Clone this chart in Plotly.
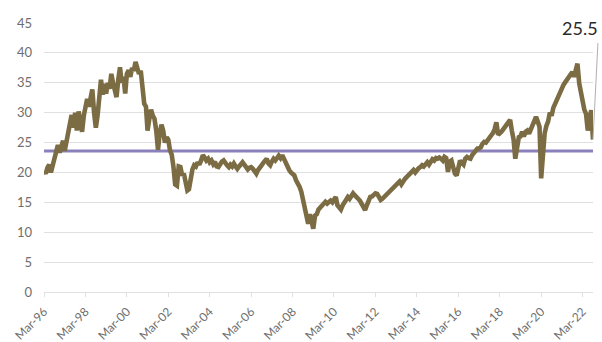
import pandas as pd
import plotly.graph_objects as go

# Monthly values from Mar-96 to Sep-22
values = [
    # Mar96 - Feb97
    20.3, 19.8, 20.8, 21.3, 20.0, 21.0, 22.0, 23.5, 24.6, 23.3, 24.5, 25.3,
    # Mar97 - Feb98
    23.6, 25.0, 26.5, 28.0, 29.6, 27.5, 30.0, 27.0, 30.2, 28.5, 26.8, 29.5,
    # Mar98 - Feb99
    31.5, 32.3, 31.0, 32.5, 33.9, 30.0, 27.5, 29.5, 33.5, 35.5, 33.0, 34.8,
    # Mar99 - Feb00
    33.2, 35.0, 34.0, 36.5, 35.0, 33.5, 32.6, 35.5, 37.6, 35.0, 36.0, 33.2,
    # Mar00 - Feb01
    36.5, 37.1, 36.0, 37.5, 37.0, 38.5, 37.5, 36.5, 37.0, 34.0, 31.5, 31.0,
    # Mar01 - Feb02
    27.0, 29.0, 30.5, 29.5, 29.0, 27.0, 23.8, 26.5, 28.0, 27.0, 25.0, 25.9,
    # Mar02 - Feb03
    25.5, 23.7, 23.0, 20.9, 18.0, 17.8, 21.0, 20.9, 19.5, 19.8, 18.0, 17.0,
    # Mar03 - Feb04
    17.2, 19.2, 20.5, 21.2, 21.0, 21.7, 21.3, 22.0, 22.9, 22.5, 22.0, 22.3,
    # Mar04 - Feb05
    21.7, 22.0, 21.4, 21.8, 21.0, 20.9, 21.5, 21.8, 22.0, 21.5, 21.2, 20.9,
    # Mar05 - Feb06
    21.3, 21.0, 21.5, 21.0, 20.6, 21.0, 21.4, 21.7, 21.3, 20.8, 20.5, 20.8,
    # Mar06 - Feb07
    20.9, 20.6, 20.2, 19.8, 20.4, 21.0, 21.2, 21.6, 22.0, 22.3, 21.5, 21.2,
    # Mar07 - Feb08
    21.8, 22.3, 22.0, 22.6, 22.8, 22.4, 22.9, 22.3, 21.5, 21.2, 20.4, 20.0,
    # Mar08 - Feb09
    19.8, 19.5, 18.7, 18.3, 17.6, 16.8, 15.3, 13.5, 12.5, 11.4, 13.0, 11.2,
    # Mar09 - Feb10
    10.6, 12.8, 13.0, 13.8, 14.2, 14.6, 15.0, 15.1, 14.8, 15.2, 15.3, 15.0,
    # Mar10 - Feb11
    15.6, 15.9, 14.5, 14.0, 13.8, 14.5, 15.0, 15.5, 15.9, 15.6, 16.2, 16.5,
    # Mar11 - Feb12
    16.2, 16.0, 15.6, 15.3, 14.8, 14.0, 13.7, 14.5, 15.3, 15.9, 16.0, 16.3,
    # Mar12 - Feb13
    16.5, 16.4, 15.8, 15.4, 15.6, 15.9, 16.3, 16.5, 16.8, 17.2, 17.6, 17.8,
    # Mar13 - Feb14
    18.0, 18.2, 18.5, 18.0, 18.6, 18.9, 19.2, 19.5, 19.8, 20.1, 20.4, 20.0,
    # Mar14 - Feb15
    20.5, 20.7, 20.9, 21.2, 21.0, 21.5, 21.7, 21.3, 22.0, 22.2, 22.0, 22.4,
    # Mar15 - Feb16
    22.3, 22.5, 22.3, 22.0, 22.6, 22.4, 20.1, 21.8, 22.0, 21.0, 19.8, 19.5,
    # Mar16 - Feb17
    20.8, 22.0, 21.6, 21.3, 22.3, 22.6, 22.4, 22.3, 22.9, 23.3, 23.6, 24.0,
    # Mar17 - Feb18
    24.0, 24.2, 24.8, 25.1, 25.0, 25.4, 25.6, 26.0, 26.6, 27.2, 28.4, 26.3,
    # Mar18 - Feb19
    26.5, 26.8, 27.2, 27.6, 28.0, 28.5, 28.8, 27.0, 25.5, 22.3, 24.5, 25.9,
    # Mar19 - Feb20
    26.0, 26.8, 26.0, 26.8, 27.0, 26.5, 27.2, 27.9, 28.6, 29.3, 28.5, 27.6,
    # Mar20 - Feb21
    19.0, 23.5, 26.5, 27.8, 28.5, 30.0, 29.5, 30.8, 31.5, 32.3, 33.0, 33.7,
    # Mar21 - Feb22
    33.9, 34.7, 35.1, 35.5, 36.0, 36.5, 36.8, 36.0, 37.5, 38.2, 34.9, 33.0,
    # Mar22 - Sep22
    32.1, 30.5, 29.8, 27.0, 29.0, 30.4, 25.5,
]
start_month = "1996-03-01"
long_run_average = 23.6
last_label = "25.5"

dates = pd.date_range(start_month, periods=len(values), freq="MS")

LINE = "#7b6c44"
AVG = "#8a80bb"
GRID = "#e0e0e0"
TXT = "#6e6e6e"
FONT = "Lato, Open Sans, sans-serif"

fig = go.Figure()
fig.add_trace(go.Scatter(x=[dates[0], dates[-1]], y=[long_run_average, long_run_average],
                         mode="lines", line=dict(color=AVG, width=3), hoverinfo="skip"))
fig.add_trace(go.Scatter(x=dates, y=values, mode="lines",
                         line=dict(color=LINE, width=4.6, shape="linear")))

fig.add_annotation(x=dates[-1], y=values[-1], xref="x", yref="y", text="",
                   showarrow=True, arrowhead=0, arrowwidth=1, arrowcolor="#b0b0b0",
                   ax=5, ay=-98)
fig.add_annotation(x=dates[-1], y=values[-1], xref="x", yref="y", text=last_label,
                   showarrow=False, xshift=-13, yshift=112,
                   font=dict(family=FONT, size=18, color="#2a2a2a"))

fig.update_layout(
    width=602, height=342,
    margin=dict(l=44, r=9, t=23, b=50),
    paper_bgcolor="white", plot_bgcolor="white",
    showlegend=False,
    font=dict(family=FONT, color=TXT),
)
fig.update_xaxes(
    type="date", range=[dates[0], dates[-1]], automargin=False,
    tick0=start_month, dtick="M24", tickformat="%b-%y", tickangle=-45,
    showgrid=False, showline=True, linecolor=GRID, linewidth=1,
    ticks="outside", ticklen=4, tickcolor=GRID, ticklabelstandoff=3,
    tickfont=dict(size=12, color=TXT),
)
fig.update_yaxes(
    range=[0, 45], dtick=5, showgrid=True, gridcolor=GRID, gridwidth=1,
    zeroline=False, ticks="", ticklabelstandoff=11, automargin=False,
    tickfont=dict(size=13, color=TXT),
)

fig.write_html("out.html")
